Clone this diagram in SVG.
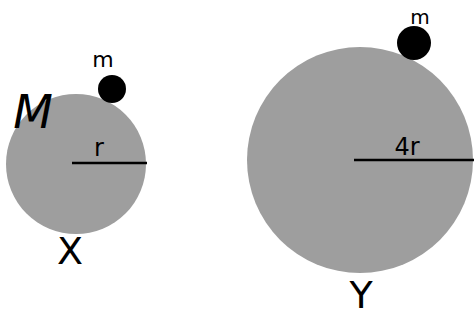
<svg xmlns="http://www.w3.org/2000/svg" width="474" height="320" viewBox="0 0 474 320">
<style>
.planet{fill:#9e9e9e}
.mass{fill:#000}
.rad{stroke:#000;stroke-width:2.5;fill:none}
.lbl{font-family:"DejaVu Sans","Liberation Sans",sans-serif;fill:#000;text-anchor:middle}
</style>
<rect width="474" height="320" fill="#fff"/>
<g id="planetX">
<circle class="planet" cx="76" cy="164" r="70"/>
<line class="rad" x1="72" y1="163" x2="147" y2="163"/>
<text class="lbl" x="99" y="156" font-size="24">r</text>
<text class="lbl" x="33" y="128" font-size="46" font-style="italic">M</text>
<text class="lbl" x="70" y="264" font-size="38">X</text>
</g>
<g id="massX">
<circle class="mass" cx="112" cy="89" r="14"/>
<text class="lbl" x="103" y="67" font-size="22">m</text>
</g>
<g id="planetY">
<circle class="planet" cx="360" cy="160" r="113"/>
<line class="rad" x1="354" y1="160" x2="474" y2="160"/>
<text class="lbl" x="407" y="155" font-size="24">4r</text>
<text class="lbl" x="361" y="308" font-size="38">Y</text>
</g>
<g id="massY">
<circle class="mass" cx="414" cy="43" r="17"/>
<text class="lbl" x="420" y="24" font-size="20">m</text>
</g>
<g id="connectors"></g>
</svg>
